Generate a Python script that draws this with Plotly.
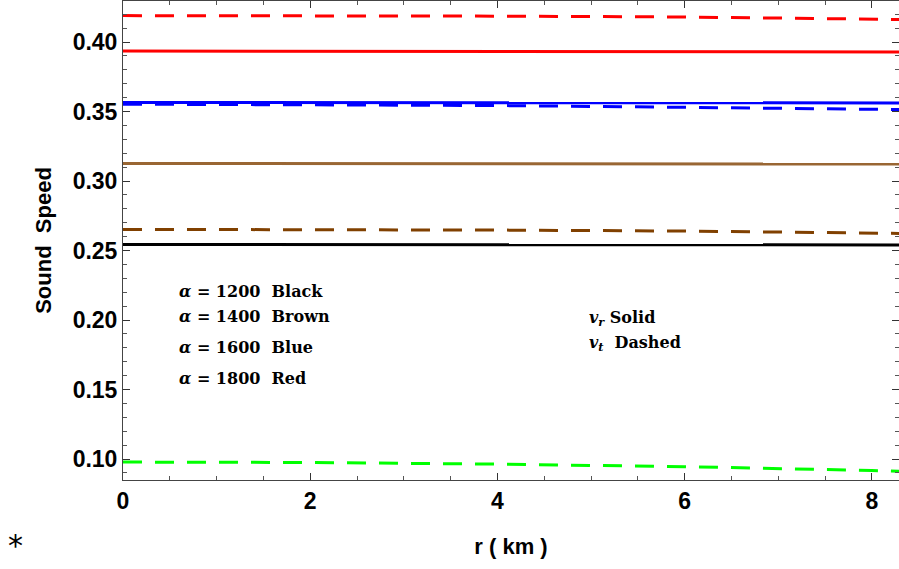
import plotly.graph_objects as go

r = [0, 2, 4, 6, 8, 8.3]
red_solid = [0.3935, 0.3934, 0.3933, 0.3931, 0.3929, 0.3928]
red_dashed = [0.4190, 0.4189, 0.4186, 0.4180, 0.4166, 0.4162]
blue_solid = [0.3565, 0.3565, 0.3564, 0.3563, 0.3562, 0.3562]
blue_dashed = [0.3553, 0.3550, 0.3543, 0.3530, 0.3517, 0.3514]
brown_solid = [0.3126, 0.3126, 0.3125, 0.3124, 0.3122, 0.3122]
brown_dashed = [0.2652, 0.2651, 0.2647, 0.2640, 0.2626, 0.2623]
black_solid = [0.2544, 0.2544, 0.2543, 0.2543, 0.2541, 0.2540]
green_dashed = [0.0978, 0.0975, 0.0963, 0.0945, 0.0917, 0.0912]

x_ticks = [0, 2, 4, 6, 8]
y_ticks = [0.10, 0.15, 0.20, 0.25, 0.30, 0.35, 0.40]
y_ticktext = ["0.10", "0.15", "0.20", "0.25", "0.30", "0.35", "0.40"]

DASH = "19px,13px"
series = [
    (red_dashed, "#FF0000", DASH),
    (red_solid, "#FF0000", "solid"),
    (blue_solid, "#0000FF", "solid"),
    (blue_dashed, "#0000FF", DASH),
    (brown_solid, "#996633", "solid"),
    (brown_dashed, "#804000", DASH),
    (black_solid, "#000000", "solid"),
    (green_dashed, "#00FF00", DASH),
]

fig = go.Figure()
for ys, col, dash in series:
    fig.add_trace(go.Scatter(x=r, y=ys, mode="lines", line=dict(color=col, width=3, dash=dash),
                             showlegend=False, hoverinfo="skip"))

tickfont = dict(family="Liberation Sans, Arial", size=23, color="black", weight="bold")
titlefont = dict(family="Liberation Sans, Arial", size=22, color="black", weight="bold")
fig.update_xaxes(range=[0, 8.29], tickvals=x_ticks, ticks="inside", ticklen=7, tickcolor="#333",
                 showline=True, linecolor="#444", linewidth=1, mirror="ticks", showgrid=False, zeroline=False,
                 tickfont=tickfont,
                 minor=dict(dtick=0.5, tick0=0, ticks="inside", ticklen=4, tickcolor="#555"),
                 title=dict(text="r ( km )", font=titlefont, standoff=26))
fig.update_yaxes(range=[0.0849, 0.4295], tickvals=y_ticks, ticktext=y_ticktext,
                 ticks="inside", ticklen=7, tickcolor="#333",
                 showline=True, linecolor="#444", linewidth=1, mirror="ticks", showgrid=False, zeroline=False,
                 tickfont=tickfont,
                 minor=dict(dtick=0.01, tick0=0, ticks="inside", ticklen=4, tickcolor="#555"),
                 title=dict(text="Sound  Speed", font=titlefont, standoff=14))

serif = dict(family="DejaVu Serif", size=16, color="black", weight="bold")
W, H = 776, 479
def px(xp, yp):
    return (xp - 123) / W, (480 - yp) / H

labels = [("<i>α</i> = 1200  Black", 291), ("<i>α</i> = 1400  Brown", 316),
          ("<i>α</i> = 1600  Blue", 347), ("<i>α</i> = 1800  Red", 378)]
for t, yp in labels:
    xx, yy = px(177, yp)
    fig.add_annotation(x=xx, y=yy, xref="paper", yref="paper", text=t, showarrow=False,
                       xanchor="left", yanchor="middle", font=serif)
for t, yp in [("<i>v<sub>r</sub></i> Solid", 318), ("<i>v<sub>t</sub></i>  Dashed", 343)]:
    xx, yy = px(587, yp)
    fig.add_annotation(x=xx, y=yy, xref="paper", yref="paper", text=t, showarrow=False,
                       xanchor="left", yanchor="middle", font=serif)
xx, yy = px(15, 545)
fig.add_annotation(x=xx, y=yy, xref="paper", yref="paper", text="*", showarrow=False,
                   xanchor="center", yanchor="middle", font=dict(family="DejaVu Sans", size=30, color="black"))

fig.update_layout(width=899, height=569, margin=dict(l=123, r=0, t=1, b=89),
                  plot_bgcolor="white", paper_bgcolor="white")
fig.write_html("out.html", config={"displayModeBar": False},
               post_script="document.body.style.margin='0';")
